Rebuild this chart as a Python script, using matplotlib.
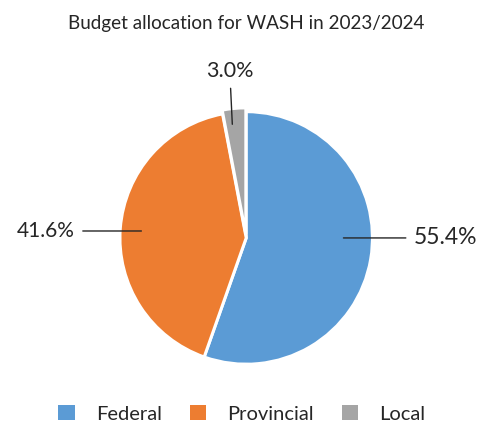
import matplotlib
matplotlib.use("Agg")
import numpy as np
from matplotlib import pyplot as plt
from matplotlib.patches import Patch

# data
categories = ["Federal", "Provincial", "Local"]
shares = [55.4, 41.6, 3.0]
pct_labels = ["55.4%", "41.6%", "3.0%"]
colors = ["#5B9BD5", "#ED7D31", "#A5A5A5"]

plt.rcParams['font.family'] = ['Lato', 'DejaVu Sans']

fig = plt.figure(figsize=(4.79, 4.23), dpi=100)
ax = fig.add_axes([0.245, 0.133, 0.538, 0.609])

wedges, _ = ax.pie(shares, colors=colors, startangle=90, counterclock=False,
                   explode=[0, 0, 0.03],
                   wedgeprops=dict(edgecolor="white", linewidth=2.2))
ax.set_aspect("equal")
ax.set_xlim(-1.02, 1.02)
ax.set_ylim(-1.02, 1.02)

# label anchor (inside slice) and text position, in pie units
anchors = [(0.77, 0.0), (-0.83, 0.055), (-0.11, 0.9)]
text_pos = [(1.33, 0.0), (-1.36, 0.055), (-0.13, 1.24)]
sizes = [16.5, 15, 15.5]
aligns = [("left", "center"), ("right", "center"), ("center", "bottom")]

for i in range(len(shares)):
    ax.annotate(pct_labels[i], xy=anchors[i], xytext=text_pos[i],
                ha=aligns[i][0], va=aligns[i][1], fontsize=sizes[i], color="#262626",
                arrowprops=dict(arrowstyle="-", color="#262626", lw=1,
                                shrinkA=3 if i == 2 else 4, shrinkB=0))

fig.text(0.513, 0.945, "Budget allocation for WASH in 2023/2024",
         ha="center", va="center", fontsize=13.6, color="#262626")

handles = [Patch(facecolor=c, edgecolor="none") for c in colors]
fig.legend(handles, categories, loc="center", bbox_to_anchor=(0.505, 0.022),
           ncol=3, frameon=False, fontsize=14.5, handlelength=0.8, handleheight=0.8,
           handletextpad=1.05, columnspacing=1.4, labelcolor="#262626")

plt.savefig("out.png", dpi=100)
